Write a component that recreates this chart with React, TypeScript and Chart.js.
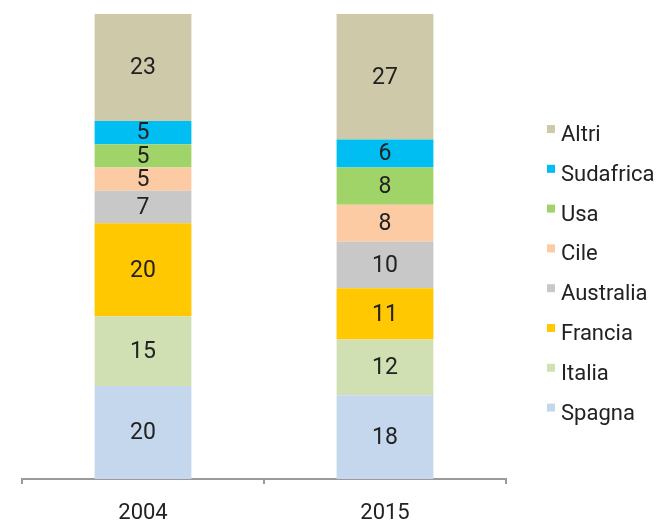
import React, { useEffect, useRef } from "react";
import { Chart, registerables } from "chart.js";

Chart.register(...registerables);

const categories = ["2004", "2015"];
const seriesNames = ["Spagna", "Italia", "Francia", "Australia", "Cile", "Usa", "Sudafrica", "Altri"];
const spagna = [20, 18];
const italia = [15, 12];
const francia = [20, 11];
const australia = [7, 10];
const cile = [5, 8];
const usa = [5, 8];
const sudafrica = [5, 6];
const altri = [23, 27];
const seriesColors = ["#c5d7ec", "#d0e0b3", "#ffc800", "#c8c8c8", "#fccba3", "#a0d468", "#00bdf2", "#cec9a9"];

const FONT = "Roboto, 'Liberation Sans', sans-serif";

const valueLabels = {
  id: "valueLabels",
  afterDatasetsDraw(chart: any) {
    const ctx = chart.ctx;
    ctx.save();
    ctx.font = `23px ${FONT}`;
    ctx.fillStyle = "#222222";
    ctx.textAlign = "center";
    ctx.textBaseline = "middle";
    chart.data.datasets.forEach((ds: any, i: number) => {
      const meta = chart.getDatasetMeta(i);
      meta.data.forEach((el: any, j: number) => {
        const v = ds.data[j];
        ctx.fillText(String(v), el.x, (el.y + el.base) / 2 + 1);
      });
    });
    ctx.restore();
  },
};

const sideLegend = {
  id: "sideLegend",
  afterDraw(chart: any) {
    const ctx = chart.ctx;
    ctx.save();
    ctx.font = `22px ${FONT}`;
    ctx.textAlign = "left";
    ctx.textBaseline = "alphabetic";
    const ds = chart.data.datasets.slice().reverse();
    ds.forEach((d: any, i: number) => {
      const baseY = 141 + i * 39.8;
      ctx.fillStyle = d.backgroundColor;
      ctx.fillRect(547, baseY - 16, 8, 8);
      ctx.fillStyle = "#222222";
      ctx.fillText(d.label, 561, baseY);
    });
    ctx.restore();
  },
};

export default function App() {
  const ref = useRef<HTMLCanvasElement>(null);
  useEffect(() => {
    const values = [spagna, italia, francia, australia, cile, usa, sudafrica, altri];
    const chart = new Chart(ref.current!, {
      type: "bar",
      data: {
        labels: categories,
        datasets: seriesNames.map((name, i) => ({
          label: name,
          data: values[i],
          backgroundColor: seriesColors[i],
          borderWidth: 0,
          categoryPercentage: 1,
          barPercentage: 0.4,
        })),
      },
      options: {
        responsive: false,
        animation: false,
        layout: { padding: { left: 22, right: 154, top: 14, bottom: 0 } },
        plugins: { legend: { display: false }, tooltip: { enabled: false } },
        scales: {
          x: {
            stacked: true,
            grid: {
              display: true,
              drawOnChartArea: false,
              tickLength: 5,
              color: "#9a9a9a",
              lineWidth: 2,
            },
            border: { color: "#9a9a9a", width: 2 },
            ticks: {
              font: { family: FONT, size: 22, lineHeight: 1 },
              color: "#222222",
              padding: 18,
            },
            afterFit: (s: any) => {
              s.height = 43;
            },
          },
          y: {
            stacked: true,
            display: false,
            min: 0,
            max: 100,
          },
        },
      },
      plugins: [valueLabels, sideLegend],
    });
    return () => chart.destroy();
  }, []);
  return (
    <div style={{ position: "absolute", left: 0, top: 0, width: 660, height: 522 }}>
      <canvas ref={ref} width={660} height={522} />
    </div>
  );
}
